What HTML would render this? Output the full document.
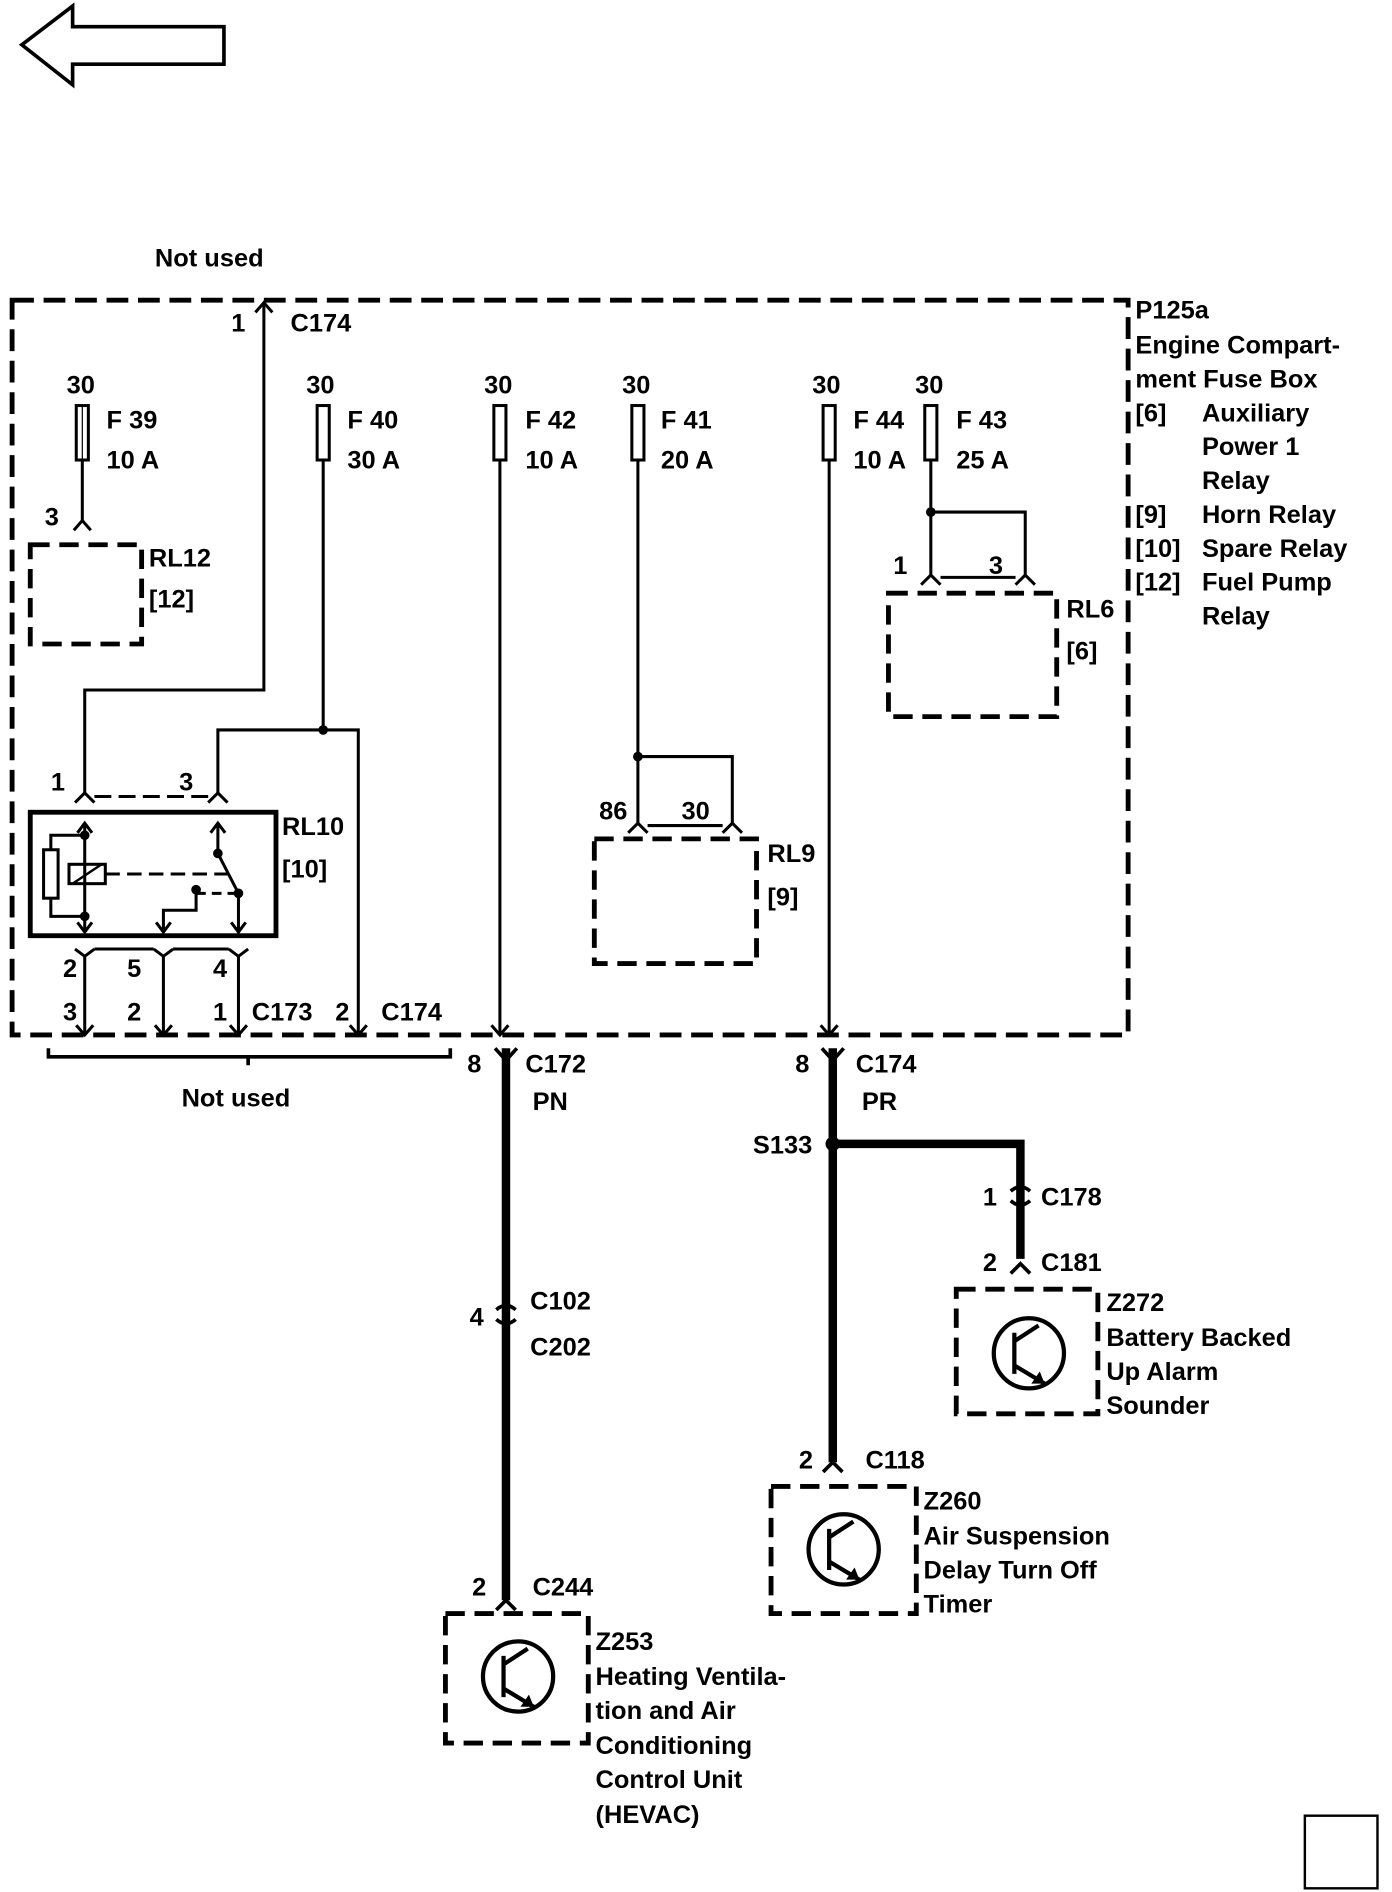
<!DOCTYPE html>
<html><head><meta charset="utf-8"><style>
html,body{margin:0;padding:0;background:#fff;}
svg{display:block;}
text{font-family:"Liberation Sans",sans-serif;font-weight:bold;font-size:21px;fill:#000;}
</style></head><body>
<svg width="1392" height="1892" viewBox="0 0 1150 1563" xmlns="http://www.w3.org/2000/svg">
<g fill="none" stroke="#000" stroke-linejoin="miter">
<!-- top-left arrow -->
<path d="M18 37 L60 5 L60 22 L185 22 L185 53 L60 53 L60 70 Z" stroke-width="3"/>
<!-- fuse box -->
<rect x="10" y="248" width="922" height="607" stroke-width="4" stroke-dasharray="18 8"/>
<!-- C174 top -->
<path d="M218 250 V570 H70 V655" stroke-width="2.5"/>
<path d="M211 258 L218 250 L225 258" stroke-width="2.5"/>
<!-- F39 -->
<rect x="63" y="335" width="10" height="45" stroke-width="2.5"/>
<line x1="68" y1="335" x2="68" y2="380" stroke-width="1"/>
<path d="M68 380 V430 M61 438 L68 430 L75 438" stroke-width="2.5"/>
<rect x="25" y="450" width="92" height="82" stroke-width="4" stroke-dasharray="16 8"/>
<!-- F40 -->
<rect x="262" y="335" width="10" height="45" stroke-width="2.5"/>
<path d="M267 380 V603 M180 655 V603 H296 V855" stroke-width="2.5"/>
<path d="M289 847 L296 855 L303 847" stroke-width="2.5"/>
<!-- F42 -->
<rect x="408" y="335" width="10" height="45" stroke-width="2.5"/>
<path d="M413 380 V855" stroke-width="2.5"/>
<path d="M406 847 L413 855 L420 847" stroke-width="2.5"/>
<!-- F41 -->
<rect x="522" y="335" width="10" height="45" stroke-width="2.5"/>
<path d="M527 380 V680 M527 625 H605 V680" stroke-width="2.5"/>
<path d="M519 688 L527 680 L535 688 M597 688 L605 680 L613 688 M535 682 H597" stroke-width="2.5"/>
<rect x="491" y="693" width="134" height="103" stroke-width="4" stroke-dasharray="16 8"/>
<!-- F44 -->
<rect x="680" y="335" width="10" height="45" stroke-width="2.5"/>
<path d="M685 380 V855" stroke-width="2.5"/>
<path d="M678 847 L685 855 L692 847" stroke-width="2.5"/>
<!-- F43 -->
<rect x="764" y="335" width="10" height="45" stroke-width="2.5"/>
<path d="M769 380 V475 M769 423 H847 V475" stroke-width="2.5"/>
<path d="M761 483 L769 475 L777 483 M839 483 L847 475 L855 483 M777 477 H839" stroke-width="2.5"/>
<rect x="734" y="490" width="139" height="102" stroke-width="4" stroke-dasharray="16 8"/>
<!-- RL10 -->
<path d="M62 663 L70 655 L78 663 M172 663 L180 655 L188 663" stroke-width="2.5"/>
<line x1="78" y1="658" x2="172" y2="658" stroke-width="2.5" stroke-dasharray="14 6"/>
<rect x="25" y="671" width="203" height="102" stroke-width="4"/>
<path d="M70 680 V770 M42 702 V690 H70 M42 742 V757 H70" stroke-width="2.5"/>
<path d="M64 688 L70 680 L76 688 M64 762 L70 770 L76 762" stroke-width="2.5"/>
<rect x="36" y="702" width="12" height="40" stroke-width="2.5"/>
<rect x="57" y="714" width="30" height="16" stroke-width="2.5"/>
<path d="M70 714 V730 M60 730 L84 714" stroke-width="2"/>
<line x1="87" y1="722" x2="190" y2="722" stroke-width="2.5" stroke-dasharray="12 6"/>
<path d="M180 680 V705 L197 738 V770 M174 688 L180 680 L186 688 M191 762 L197 770 L203 762" stroke-width="2.5"/>
<line x1="162" y1="738" x2="197" y2="738" stroke-width="2.5" stroke-dasharray="8 5"/>
<path d="M162 738 V752 H135 V770 M129 762 L135 770 L141 762" stroke-width="2.5"/>
<!-- bottom connectors RL10 -->
<path d="M70 790 V855 M135 790 V855 M197 790 V855 M62 784 L70 790 L78 784 M127 784 L135 790 L143 784 M189 784 L197 790 L205 784 M78 784 H127 M143 784 H189" stroke-width="2.5"/>
<path d="M63 847 L70 855 L77 847 M128 847 L135 855 L142 847 M190 847 L197 855 L204 847" stroke-width="2.5"/>
<!-- brace -->
<path d="M40 866 V873 H372 V866 M205 873 V880" stroke-width="3"/>
<!-- PN wire -->
<path d="M418 866 V1322" stroke-width="7"/>
<path d="M409 866 L418 876 L427 866" stroke-width="3"/>
<path d="M410 1082 Q418 1075 426 1082 M410 1090 Q418 1097 426 1090" stroke-width="3"/>
<path d="M410 1330 L418 1322 L426 1330" stroke-width="3"/>
<rect x="368" y="1333" width="118" height="107" stroke-width="4" stroke-dasharray="16 8"/>
<!-- PR wire -->
<path d="M688 866 V1208" stroke-width="7"/>
<path d="M679 866 L688 876 L697 866" stroke-width="3"/>
<path d="M688 945 H843 V1040" stroke-width="7"/>
<path d="M835 984 Q843 977 851 984 M835 992 Q843 999 851 992" stroke-width="3"/>
<path d="M835 1052 L843 1044 L851 1052" stroke-width="3"/>
<path d="M680 1216 L688 1208 L696 1216" stroke-width="3"/>
<rect x="790" y="1065" width="117" height="103" stroke-width="4" stroke-dasharray="16 8"/>
<rect x="637" y="1228" width="120" height="105" stroke-width="4" stroke-dasharray="16 8"/>
<!-- transistors -->
<g stroke-width="3.5">
<circle cx="428" cy="1385" r="29"/>
<path d="M416 1368 V1402 M416 1375 L436 1362 M416 1395 L441 1410"/>
<circle cx="850" cy="1118" r="29"/>
<path d="M838 1101 V1135 M838 1108 L858 1095 M838 1128 L863 1143"/>
<circle cx="697" cy="1280" r="29"/>
<path d="M685 1263 V1297 M685 1270 L705 1257 M685 1290 L710 1305"/>
</g>
<rect x="1078" y="1500" width="60" height="60" stroke-width="2"/>
</g>
<g fill="#000">
<circle cx="267" cy="603" r="4"/><circle cx="527" cy="625" r="4"/><circle cx="769" cy="423" r="4"/>
<circle cx="70" cy="690" r="4"/><circle cx="70" cy="757" r="4"/>
<circle cx="180" cy="705" r="4"/><circle cx="197" cy="738" r="4"/><circle cx="162" cy="735" r="4"/>
<circle cx="688" cy="945" r="6"/>
<path d="M441 1410 L430 1410 L437 1400 Z M863 1143 L852 1143 L859 1133 Z M710 1305 L699 1305 L706 1295 Z"/>
</g>
<text x="128" y="220">Not used</text>
<text x="191" y="274">1</text><text x="240" y="274">C174</text>
<text x="55" y="325">30</text><text x="88" y="354">F 39</text><text x="88" y="387">10 A</text>
<text x="37" y="434">3</text><text x="123" y="468">RL12</text><text x="123" y="502">[12]</text>
<text x="253" y="325">30</text><text x="287" y="354">F 40</text><text x="287" y="387">30 A</text>
<text x="400" y="325">30</text><text x="434" y="354">F 42</text><text x="434" y="387">10 A</text>
<text x="514" y="325">30</text><text x="546" y="354">F 41</text><text x="546" y="387">20 A</text>
<text x="671" y="325">30</text><text x="705" y="354">F 44</text><text x="705" y="387">10 A</text>
<text x="756" y="325">30</text><text x="790" y="354">F 43</text><text x="790" y="387">25 A</text>
<text x="738" y="474">1</text><text x="817" y="474">3</text>
<text x="881" y="510">RL6</text><text x="881" y="545">[6]</text>
<text x="938" y="263">P125a</text>
<text x="938" y="292">Engine Compart-</text>
<text x="938" y="320">ment Fuse Box</text>
<text x="938" y="348">[6]</text><text x="993" y="348">Auxiliary</text>
<text x="993" y="376">Power 1</text><text x="993" y="404">Relay</text>
<text x="938" y="432">[9]</text><text x="993" y="432">Horn Relay</text>
<text x="938" y="460">[10]</text><text x="993" y="460">Spare Relay</text>
<text x="938" y="488">[12]</text><text x="993" y="488">Fuel Pump</text>
<text x="993" y="516">Relay</text>
<text x="42" y="653">1</text><text x="148" y="653">3</text>
<text x="233" y="690">RL10</text><text x="233" y="725">[10]</text>
<text x="495" y="677">86</text><text x="563" y="677">30</text>
<text x="634" y="712">RL9</text><text x="634" y="748">[9]</text>
<text x="52" y="807">2</text><text x="105" y="807">5</text><text x="176" y="807">4</text>
<text x="52" y="843">3</text><text x="105" y="843">2</text><text x="176" y="843">1</text>
<text x="208" y="843">C173</text><text x="277" y="843">2</text><text x="315" y="843">C174</text>
<text x="150" y="914">Not used</text>
<text x="386" y="886">8</text><text x="434" y="886">C172</text><text x="440" y="917">PN</text>
<text x="657" y="886">8</text><text x="707" y="886">C174</text><text x="712" y="917">PR</text>
<text x="622" y="953">S133</text>
<text x="812" y="996">1</text><text x="860" y="996">C178</text>
<text x="812" y="1050">2</text><text x="860" y="1050">C181</text>
<text x="914" y="1083">Z272</text><text x="914" y="1112">Battery Backed</text>
<text x="914" y="1140">Up Alarm</text><text x="914" y="1168">Sounder</text>
<text x="388" y="1095">4</text><text x="438" y="1082">C102</text><text x="438" y="1120">C202</text>
<text x="660" y="1213">2</text><text x="715" y="1213">C118</text>
<text x="763" y="1247">Z260</text><text x="763" y="1276">Air Suspension</text>
<text x="763" y="1304">Delay Turn Off</text><text x="763" y="1332">Timer</text>
<text x="390" y="1318">2</text><text x="440" y="1318">C244</text>
<text x="492" y="1363">Z253</text><text x="492" y="1392">Heating Ventila-</text>
<text x="492" y="1420">tion and Air</text><text x="492" y="1449">Conditioning</text>
<text x="492" y="1477">Control Unit</text><text x="492" y="1506">(HEVAC)</text>
</svg>
</body></html>
